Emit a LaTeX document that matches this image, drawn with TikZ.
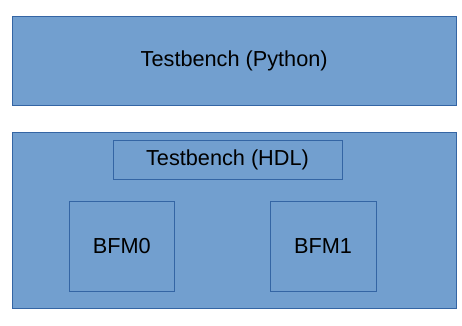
\documentclass[tikz,border=0pt]{standalone}
\usepackage{fontspec}
\setmainfont{Liberation Sans}
\usepackage{tikz}
\usetikzlibrary{positioning}
\definecolor{boxFill}{HTML}{729FCF}
\definecolor{boxLine}{HTML}{3465A4}

\begin{document}
\begin{tikzpicture}[x=1pt, y=-1pt,
    layer/.style={draw=boxLine, fill=boxFill, line width=0.9pt, inner sep=0pt,
      minimum width=444.5pt, font=\fontsize{21.7}{26}\selectfont},
    block/.style={draw=boxLine, line width=0.9pt, inner sep=0pt,
      font=\fontsize{21.7}{26}\selectfont}]
    \useasboundingbox (0,0) rectangle (462,325);
    \node[layer, minimum height=89.5pt, anchor=north west] (pytb) at (11.5,15.5) {Testbench (Python)};
    \node[layer, minimum height=176.5pt, anchor=north west, below=26pt of pytb] (sim) {};
    \node[block, minimum width=229pt, minimum height=39pt] (hdltb) at (227.5,159.5) {Testbench (HDL)};
    \node[block, minimum width=105pt, minimum height=89.5pt] (bfm0) at (121.8,246.2) {BFM0};
    \node[block, minimum width=106pt, minimum height=89.5pt] (bfm1) at (323,246.2) {BFM1};
  \end{tikzpicture}
\end{document}
